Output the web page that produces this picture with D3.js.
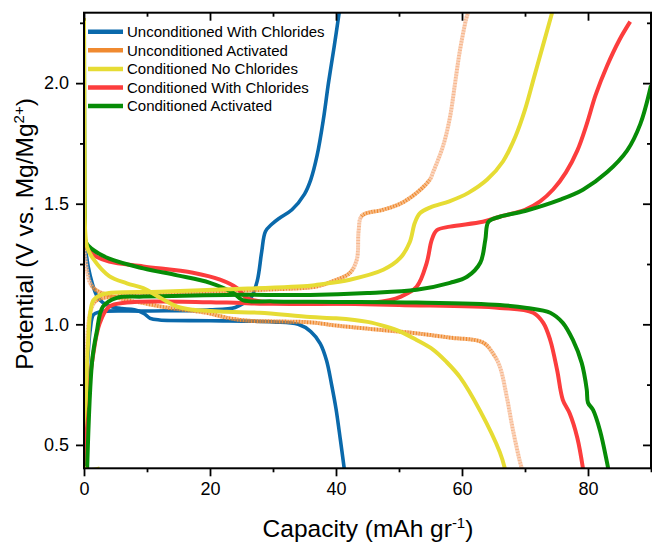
<!DOCTYPE html>
<html>
<head>
<meta charset="utf-8">
<script src="https://cdn.jsdelivr.net/npm/d3@7"></script>
<style>
  body { margin: 0; background: #fff; }
  text { font-family: "Liberation Sans", Arial, Helvetica, sans-serif; fill: #000; }
</style>
</head>
<body>
<div id="chart"></div>
<script>
// series names, in legend order
var names = ["Unconditioned With Chlorides", "Unconditioned Activated", "Conditioned No Chlorides",
             "Conditioned With Chlorides", "Conditioned Activated"];

// [capacity, potential]; charge goes up, discharge goes down
var blueCharge = [[0.2,0.41],[0.5,0.8],[1,0.98],[1.5,1.04],[2.5,1.052],[10,1.055],[20,1.06],[24,1.07],
  [25.5,1.09],[26.5,1.11],[27.5,1.18],[28.2,1.3],[28.8,1.385],[29.8,1.415],[31,1.44],[33,1.475],
  [35,1.54],[36,1.6],[37,1.7],[38,1.85],[38.8,2.0],[39.7,2.15],[40.5,2.292]];
var blueDischarge = [[0,1.4],[0.3,1.3],[1,1.2],[2,1.12],[3,1.09],[4.5,1.072],[6,1.065],[8,1.06],
  [9.5,1.045],[10.5,1.025],[12,1.018],[20,1.015],[30,1.01],[34,1.0],[36,0.97],[37.5,0.92],
  [38.5,0.85],[39.3,0.75],[40,0.65],[40.7,0.52],[41.3,0.403]];

var orangeCharge = [[0.1,0.41],[0.4,0.85],[1,1.05],[2,1.1],[5,1.115],[10,1.125],[20,1.135],[30,1.145],
  [36.9,1.157],[40.1,1.185],[42.2,1.213],[43.3,1.268],[43.6,1.39],[44.1,1.45],[47.5,1.475],
  [50.2,1.5],[52.8,1.545],[54.9,1.6],[55.4,1.63],[57,1.74],[58.1,1.86],[58.9,2.0],[59.7,2.14],
  [60.8,2.28],[61,2.292]];
var orangeDischarge = [[0,1.32],[0.5,1.22],[1,1.17],[2,1.14],[4,1.12],[7,1.1],[10,1.085],[13,1.07],
  [16,1.06],[19.6,1.047],[22.7,1.027],[26,1.015],[30,1.012],[36,1.008],[40,0.995],[47,0.977],
  [52,0.965],[58,0.945],[63.3,0.925],[64.9,0.88],[66,0.825],[67.1,0.7],[68.1,0.56],[69.2,0.43],
  [69.5,0.403]];

var yellowCharge = [[2.5,0.403],[0.05,0.403],[0.3,0.7],[0.6,0.9],[1,1.05],[1.5,1.1],[2.5,1.12],
  [4,1.13],[12,1.135],[22.7,1.145],[35.9,1.16],[37,1.164],[42.2,1.185],[47.5,1.226],[50.2,1.275],
  [51.7,1.34],[52.5,1.42],[53.3,1.46],[55,1.485],[58,1.51],[61,1.545],[64,1.6],[66.5,1.675],
  [68.5,1.78],[70,1.89],[71.5,2.03],[73,2.17],[74.3,2.292]];
var yellowDischarge = [[0,2.27],[0.1,1.6],[0.2,1.38],[0.5,1.32],[1.5,1.27],[4,1.2],[6.8,1.17],
  [9.4,1.15],[12.1,1.11],[14.8,1.073],[17.3,1.06],[22.7,1.052],[27.9,1.048],[35.9,1.03],[40,1.025],
  [45,1.01],[48,0.99],[50.2,0.97],[52.8,0.935],[55.4,0.895],[57.5,0.845],[59.7,0.78],[62.9,0.64],
  [66,0.47],[66.8,0.403]];

var redCharge = [[0.3,0.41],[0.7,0.7],[1.4,0.865],[2.5,1.005],[4,1.073],[6.8,1.09],[12,1.095],
  [22.7,1.09],[30,1.085],[40,1.085],[46,1.09],[48.5,1.1],[50.2,1.114],[52.8,1.156],[54.4,1.255],
  [55.2,1.35],[56,1.39],[58.1,1.405],[63.3,1.425],[66,1.446],[70,1.475],[72.4,1.51],[74.5,1.56],
  [76.5,1.63],[78.3,1.72],[79.8,1.83],[81.2,1.95],[83,2.07],[85,2.18],[86.7,2.255]];
var redDischarge = [[0,1.5],[0.3,1.33],[1,1.3],[2,1.28],[4,1.26],[9.4,1.24],[17.3,1.214],
  [21.6,1.185],[24.3,1.15],[25.8,1.11],[28,1.095],[35.9,1.088],[50,1.08],[66,1.068],[71.3,1.048],
  [72.9,1.006],[74,0.935],[75.1,0.81],[76,0.687],[77.1,0.63],[78.3,0.53],[79.2,0.403]];

var greenCharge = [[0.5,0.403],[1.3,0.85],[2,0.965],[3,1.073],[5.2,1.11],[9.4,1.115],[22.7,1.122],
  [35.9,1.122],[45,1.13],[52.8,1.143],[58.1,1.172],[60.8,1.197],[62.9,1.255],[63.7,1.35],
  [64.2,1.425],[66,1.446],[70,1.47],[75.6,1.517],[79.2,1.558],[83,1.63],[86.2,1.72],[88.3,1.83],
  [90,1.99]];
var greenDischarge = [[0,2.27],[0.05,1.8],[0.15,1.45],[0.3,1.34],[1.4,1.31],[4,1.272],[9.4,1.232],
  [14.8,1.203],[20,1.172],[23.7,1.13],[25.2,1.1],[30,1.095],[40,1.093],[52.8,1.09],[66,1.08],
  [70.3,1.068],[74,1.048],[76,1.006],[77.6,0.935],[79,0.84],[79.8,0.73],[80,0.675],[80.8,0.645],
  [81.9,0.56],[83,0.43],[83.2,0.403]];

var xMajor = [0, 20, 40, 60, 80], xMinor = [10, 30, 50, 70, 90];
var yMajor = [0.5, 1.0, 1.5, 2.0], yMinor = [0.75, 1.25, 1.75, 2.25];

var colors = ["#0a69ab", "#f08a30", "#e6dc34", "#fc3d3d", "#078c07"];
var peach = "#f7b890";

var width = 652, height = 544;
var mLeft = 84, mRight = 651, mTop = 12.7, mBottom = 468.3;

var x = d3.scaleLinear().domain([0, 90]).range([mLeft, mRight]);
var y = d3.scaleLinear().domain([0.403, 2.292]).range([mBottom, mTop]);

var svg = d3.select("#chart").append("svg")
  .attr("width", width)
  .attr("height", height);

var plot = svg.append("g");
plot.append("clipPath").attr("id", "clip")
  .append("rect").attr("x", mLeft).attr("y", mTop).attr("width", mRight - mLeft).attr("height", mBottom - mTop);

var lines = plot.append("g").attr("clip-path", "url(#clip)");

var line = d3.line()
  .x(function(d) { return x(d[0]); })
  .y(function(d) { return y(d[1]); })
  .curve(d3.curveCatmullRom.alpha(0.5));

function drawPlain(data, color, w) {
  lines.append("path")
    .attr("d", line(data))
    .attr("fill", "none")
    .attr("stroke", color)
    .attr("stroke-width", w)
    .attr("stroke-linejoin", "round")
    .attr("stroke-linecap", "butt");
}

// the orange series looks grainy, and pale where it is steep
function drawGrainy(data) {
  var tmp = lines.append("path").attr("d", line(data)).attr("fill", "none").attr("stroke", "none");
  var node = tmp.node(), len = node.getTotalLength();
  var step = 1.4, prev = node.getPointAtLength(0);
  var col = d3.interpolateRgb(colors[1], peach);
  for (var l = step; l <= len + step; l += step) {
    var p = node.getPointAtLength(Math.min(l, len));
    var dx = Math.abs(p.x - prev.x), dy = Math.abs(p.y - prev.y);
    var slope = dy / Math.max(dx, 0.001);
    var t = Math.max(0, Math.min(1, (slope - 0.9) / 1.2));
    lines.append("line")
      .attr("x1", prev.x).attr("y1", prev.y).attr("x2", p.x).attr("y2", p.y)
      .attr("stroke", col(t))
      .attr("stroke-width", 4)
      .attr("stroke-opacity", (Math.round(l / step) % 2) ? 1 : 0.6);
    prev = p;
  }
  tmp.remove();
}

drawPlain(blueCharge, colors[0], 3.6);
drawPlain(blueDischarge, colors[0], 3.6);
drawGrainy(orangeCharge);
drawGrainy(orangeDischarge);
drawPlain(redCharge, colors[3], 4);
drawPlain(redDischarge, colors[3], 4);
drawPlain(greenCharge, colors[4], 4);
drawPlain(greenDischarge, colors[4], 4);
drawPlain(yellowCharge, colors[2], 4);
drawPlain(yellowDischarge, colors[2], 4);

// axes
function styleAxis(g) {
  g.select(".domain").remove();
  g.selectAll(".tick line").attr("stroke", "#000").attr("stroke-width", 1.8);
  g.selectAll(".tick text").style("font-size", "18px").attr("fill", "#000");
}

plot.append("g").attr("transform", "translate(0," + mBottom + ")")
  .call(d3.axisBottom(x).tickValues(xMajor).tickSize(8).tickPadding(6).tickFormat(d3.format("d")))
  .call(styleAxis);
plot.append("g").attr("transform", "translate(0," + mBottom + ")")
  .call(d3.axisBottom(x).tickValues(xMinor).tickSize(4).tickFormat(""))
  .call(styleAxis);
plot.append("g").attr("transform", "translate(0," + mTop + ")")
  .call(d3.axisTop(x).tickValues(xMajor).tickSize(-8).tickFormat(""))
  .call(styleAxis);
plot.append("g").attr("transform", "translate(0," + mTop + ")")
  .call(d3.axisTop(x).tickValues(xMinor).tickSize(-4).tickFormat(""))
  .call(styleAxis);

plot.append("g").attr("transform", "translate(" + mLeft + ",0)")
  .call(d3.axisLeft(y).tickValues(yMajor).tickSize(8).tickPadding(7).tickFormat(d3.format(".1f")))
  .call(styleAxis);
plot.append("g").attr("transform", "translate(" + mLeft + ",0)")
  .call(d3.axisLeft(y).tickValues(yMinor).tickSize(4).tickFormat(""))
  .call(styleAxis);
plot.append("g").attr("transform", "translate(" + mRight + ",0)")
  .call(d3.axisRight(y).tickValues(yMajor).tickSize(-8).tickFormat(""))
  .call(styleAxis);
plot.append("g").attr("transform", "translate(" + mRight + ",0)")
  .call(d3.axisRight(y).tickValues(yMinor).tickSize(-4).tickFormat(""))
  .call(styleAxis);

plot.append("rect")
  .attr("x", mLeft).attr("y", mTop)
  .attr("width", mRight - mLeft).attr("height", mBottom - mTop)
  .attr("fill", "none").attr("stroke", "#000").attr("stroke-width", 2);

// axis titles
var xt = svg.append("text")
  .attr("x", 368).attr("y", 537)
  .attr("text-anchor", "middle")
  .style("font-size", "24.5px");
xt.append("tspan").text("Capacity (mAh gr");
xt.append("tspan").attr("dy", -9).style("font-size", "15px").text("-1");
xt.append("tspan").attr("dy", 9).text(")");

var yt = svg.append("text")
  .attr("transform", "translate(32.5,234) rotate(-90)")
  .attr("text-anchor", "middle")
  .style("font-size", "24.5px");
yt.append("tspan").text("Potential (V vs. Mg/Mg");
yt.append("tspan").attr("dy", -9).style("font-size", "15px").text("2+");
yt.append("tspan").attr("dy", 9).text(")");

// legend
var legend = svg.append("g");
names.forEach(function(n, i) {
  var ly = 31.7 + i * 18.6;
  legend.append("line")
    .attr("x1", 88).attr("x2", 123).attr("y1", ly).attr("y2", ly)
    .attr("stroke", colors[i]).attr("stroke-width", 4.5);
  legend.append("text")
    .attr("x", 127).attr("y", ly + 5.3)
    .style("font-size", "15px")
    .text(n);
});
</script>
</body>
</html>
